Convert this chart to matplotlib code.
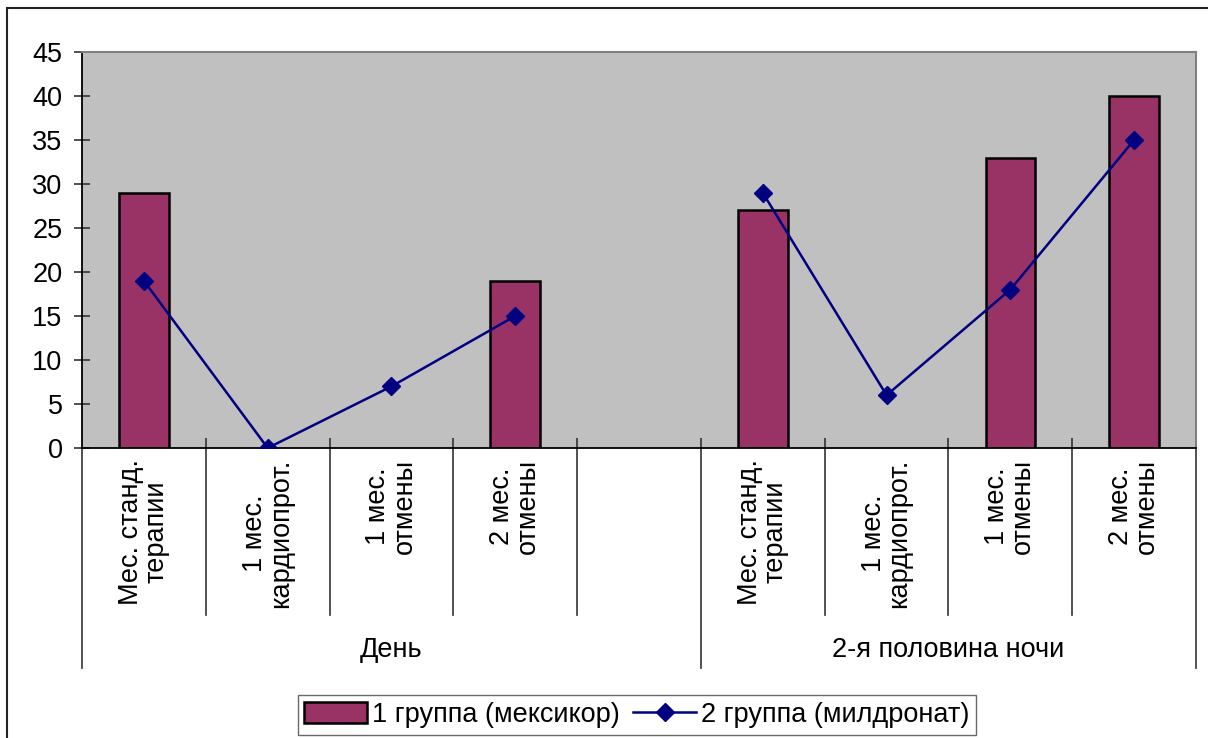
import numpy as np
import matplotlib
matplotlib.use("Agg")
import matplotlib.pyplot as plt
from matplotlib import transforms
from matplotlib.patches import Rectangle, Patch
from matplotlib.lines import Line2D

plt.rcParams['font.family'] = ['Liberation Sans', 'DejaVu Sans']

# Categories (an empty slot separates the two time-of-day groups)
categories = ["Мес. станд.\nтерапии", "1 мес.\nкардиопрот.", "1 мес.\nотмены", "2 мес.\nотмены", "",
              "Мес. станд.\nтерапии", "1 мес.\nкардиопрот.", "1 мес.\nотмены", "2 мес.\nотмены"]
groups = ["День", "2-я половина ночи"]
group_sizes = [5, 4]

group1 = [29, np.nan, np.nan, 19, np.nan, 27, np.nan, 33, 40]   # 1 группа (мексикор)
group2 = [19, 0, 7, 15, np.nan, 29, 6, 18, 35]                  # 2 группа (милдронат)

series_names = ["1 группа (мексикор)", "2 группа (милдронат)"]
yticks = [0, 5, 10, 15, 20, 25, 30, 35, 40, 45]

FS = 19.5
W, H = 1208, 738
fig = plt.figure(figsize=(W / 100, H / 100), dpi=100)
fig.patch.set_facecolor("white")

L, T, R, B = 82, 52, 1196, 448
ax = fig.add_axes([L / W, 1 - B / H, (R - L) / W, (B - T) / H])
ax.set_facecolor("#C0C0C0")

x = np.arange(len(categories))
ax.bar(x, group1, width=0.4, color="#993366", edgecolor="black", linewidth=1.8, zorder=2)
ax.plot(x, group2, color="#000080", linewidth=1.8, marker="D", markersize=9,
        markerfacecolor="#000080", markeredgecolor="#000080", zorder=3)

ax.set_xlim(-0.5, len(categories) - 0.5)
ax.set_ylim(0, 45)
ax.set_yticks(yticks)
ax.tick_params(axis="y", direction="inout", length=12, width=1.2, color="#333333",
               labelsize=FS, pad=8)

# category boundaries: short inward ticks on the axis
ax.set_xticks([])
ax.set_xticks(np.arange(0.5, len(categories) - 0.5, 1.0), minor=True)
ax.tick_params(axis="x", which="minor", direction="in", length=7, width=1.2, color="#333333",
               labelbottom=False)

for side in ("top", "right"):
    ax.spines[side].set_color("#808080")
    ax.spines[side].set_linewidth(1.5)
for side in ("left", "bottom"):
    ax.spines[side].set_color("black")
    ax.spines[side].set_linewidth(1.3)

# multi-level category axis below the plot
trans = transforms.blended_transform_factory(ax.transData, ax.transAxes)
h_px = B - T
y_cat = -(615 - B) / h_px
y_grp = -(668 - B) / h_px

bounds = np.arange(-0.5, len(categories), 1.0)
group_edges = np.concatenate([[0], np.cumsum(group_sizes)]) - 0.5
for b in bounds:
    y_end = y_grp if np.any(np.isclose(b, group_edges)) else y_cat
    ax.add_line(Line2D([b, b], [0, y_end], transform=trans, color="#333333",
                       linewidth=1.2, clip_on=False))

for xi, label in zip(x, categories):
    if label:
        ax.text(xi, -(459 - B) / h_px, label, transform=trans, rotation=90,
                ha="center", va="top", multialignment="center", fontsize=FS,
                linespacing=1.0)

for g, (a, b) in zip(groups, zip(group_edges[:-1], group_edges[1:])):
    ax.text((a + b) / 2, -(650 - B) / h_px, g, transform=trans,
            ha="center", va="center", fontsize=FS)

# chart frame
fig.patches.append(Rectangle((7 / W, -0.1), 1.2, (1 - 8 / H) + 0.1, transform=fig.transFigure,
                             fill=False, edgecolor="#222222", linewidth=1.5))

handles = [Patch(facecolor="#993366", edgecolor="black", linewidth=1.8),
           Line2D([], [], color="#000080", linewidth=1.8, marker="D", markersize=9)]
leg = fig.legend(handles, series_names, loc="center", ncol=2,
                 bbox_to_anchor=(637 / W, 1 - 715 / H), fontsize=FS, frameon=True,
                 fancybox=False, shadow=False, handlelength=2.3, handleheight=0.8,
                 handletextpad=0.2, columnspacing=0.5, borderpad=0.25, borderaxespad=0)
leg.get_frame().set_edgecolor("#444444")
leg.get_frame().set_linewidth(1.0)

fig.savefig("out.png", dpi=100, facecolor="white")
